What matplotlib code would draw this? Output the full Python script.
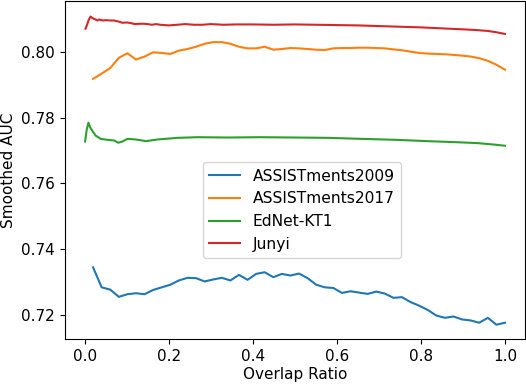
import numpy as np
import matplotlib
matplotlib.use('Agg')
import matplotlib.pyplot as plt

# ASSISTments2009 / ASSISTments2017 share a 49 point grid
grid_x = np.linspace(0.02, 1.0, 49)

a09_auc = [0.7344, 0.7283, 0.7276, 0.7254, 0.7262, 0.7265, 0.7262, 0.7275, 0.7283, 0.7291,
           0.7304, 0.7312, 0.7311, 0.7301, 0.7307, 0.7312, 0.7304, 0.7321, 0.7306, 0.7324,
           0.7329, 0.7314, 0.7324, 0.7319, 0.7325, 0.7311, 0.7291, 0.7283, 0.7281, 0.7266,
           0.7271, 0.7267, 0.7263, 0.7270, 0.7264, 0.7251, 0.7253, 0.7238, 0.7227, 0.7214,
           0.7197, 0.7190, 0.7194, 0.7185, 0.7182, 0.7175, 0.7190, 0.7169, 0.7175]

a17_auc = [0.7919, 0.7935, 0.7952, 0.7983, 0.7997, 0.7978, 0.7987, 0.8000, 0.7998, 0.7995,
           0.8005, 0.8010, 0.8017, 0.8026, 0.8031, 0.8031, 0.8026, 0.8017, 0.8012, 0.8012,
           0.8017, 0.8008, 0.8010, 0.8013, 0.8012, 0.8010, 0.8008, 0.8007, 0.8012, 0.8013,
           0.8013, 0.8014, 0.8014, 0.8013, 0.8012, 0.8009, 0.8006, 0.8002, 0.7998, 0.7996,
           0.7995, 0.7994, 0.7992, 0.7990, 0.7987, 0.7982, 0.7974, 0.7962, 0.7947]

ednet_x = [0.001, 0.005, 0.009, 0.013, 0.018, 0.026, 0.038, 0.054, 0.070, 0.080, 0.090,
           0.102, 0.122, 0.146, 0.173, 0.221, 0.269, 0.34, 0.417, 0.50, 0.58, 0.656,
           0.74, 0.815, 0.88, 0.934, 0.97, 1.0]
ednet_auc = [0.7728, 0.7765, 0.7785, 0.7771, 0.7761, 0.7746, 0.7736, 0.7733, 0.7731, 0.7724,
             0.7728, 0.7736, 0.7734, 0.7729, 0.7734, 0.7739, 0.7741, 0.7740, 0.7741, 0.7740,
             0.7739, 0.7736, 0.7733, 0.7729, 0.7726, 0.7723, 0.7719, 0.7715]

junyi_x = [0.002, 0.006, 0.010, 0.014, 0.018, 0.022, 0.026, 0.030, 0.034, 0.038, 0.044,
           0.05, 0.06, 0.07, 0.08, 0.09, 0.10, 0.11, 0.12, 0.13, 0.14, 0.15, 0.16, 0.17,
           0.18, 0.20, 0.22, 0.24, 0.26, 0.28, 0.30, 0.33, 0.36, 0.40, 0.45, 0.50, 0.55,
           0.60, 0.65, 0.70, 0.75, 0.80, 0.85, 0.90, 0.93, 0.96, 0.98, 1.0]
junyi_auc = [0.8072, 0.8085, 0.8100, 0.8109, 0.8105, 0.8102, 0.8100, 0.8097, 0.8100, 0.8099,
             0.8097, 0.8098, 0.8097, 0.8097, 0.8094, 0.8090, 0.8091, 0.8089, 0.8086, 0.8087,
             0.8087, 0.8086, 0.8084, 0.8086, 0.8084, 0.8082, 0.8084, 0.8086, 0.8084, 0.8084,
             0.8086, 0.8084, 0.8085, 0.8085, 0.8084, 0.8085, 0.8084, 0.8083, 0.8082, 0.8080,
             0.8078, 0.8076, 0.8073, 0.8070, 0.8068, 0.8065, 0.8061, 0.8056]

fig = plt.figure(figsize=(5.26, 3.84), dpi=100)
ax = fig.add_axes([0.123, 0.116, 0.875, 0.881])

ax.plot(grid_x, a09_auc, color='C0', label='ASSISTments2009')
ax.plot(grid_x, a17_auc, color='C1', label='ASSISTments2017')
ax.plot(ednet_x, ednet_auc, color='C2', label='EdNet-KT1')
ax.plot(junyi_x, junyi_auc, color='C3', label='Junyi')

ax.set_xlim(-0.0475, 1.0475)
ax.set_ylim(0.7124, 0.8156)
ax.set_yticks([0.72, 0.74, 0.76, 0.78, 0.80])
ax.set_xticks([0.0, 0.2, 0.4, 0.6, 0.8, 1.0])
ax.tick_params(labelsize=11)
ax.set_xlabel('Overlap Ratio', fontsize=11, labelpad=2)
ax.set_ylabel('Smoothed AUC', fontsize=11)

ax.legend(loc='center', bbox_to_anchor=(0.515, 0.382), fontsize=11.2)

fig.savefig('out.png', dpi=100)
